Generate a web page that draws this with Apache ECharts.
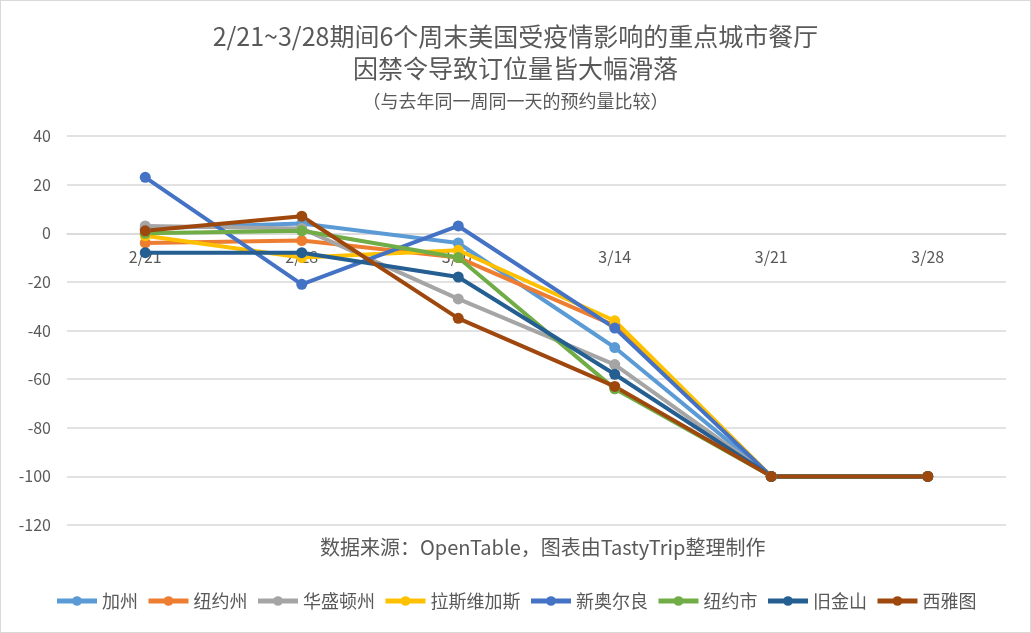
<!DOCTYPE html>
<html><head><meta charset="utf-8">
<script src="https://cdn.jsdelivr.net/npm/echarts@6/dist/echarts.min.js"></script>
<style>html,body{margin:0;padding:0;background:#fff;}#c{width:1029px;height:631px;border:1px solid #d9d9d9;}</style>
</head><body><div id="c"></div>
<script>
const categories = ['2/21','2/28','3/07','3/14','3/21','3/28'];
const seriesNames = ['加州','纽约州','华盛顿州','拉斯维加斯','新奥尔良','纽约市','旧金山','西雅图'];
const caliData    = [2, 4, -4, -47, -100, -100];
const nyStateData = [-4, -3, -10, -38, -100, -100];
const waData      = [3, 2, -27, -54, -100, -100];
const lvData      = [-1, -10, -7, -36, -100, -100];
const nolaData    = [23, -21, 3, -39, -100, -100];
const nycData     = [0, 1, -10, -64, -100, -100];
const sfData      = [-8, -8, -18, -58, -100, -100];
const seaData     = [1, 7, -35, -63, -100, -100];
const yTicks = [-120, 40, 20];
const allData = [caliData, nyStateData, waData, lvData, nolaData, nycData, sfData, seaData];
const colors = ['#5B9BD5','#ED7D31','#A5A5A5','#FFC000','#4472C4','#70AD47','#255E91','#9E480E'];
const font = '"Noto Sans CJK SC", "Noto Sans", sans-serif';
const txt = '#595959';
const gridTop = 135, gridBottom = 107, H = 631;
const plotH = H - gridTop - gridBottom;
const zeroOffset = -(plotH * (0 - yTicks[0]) / (yTicks[1] - yTicks[0]));
const chart = echarts.init(document.getElementById('c'));
chart.setOption({
  animation: false,
  color: colors,
  title: [
    {text: '2/21~3/28期间6个周末美国受疫情影响的重点城市餐厅', left: 'center', top: 18, textStyle: {fontFamily: font, fontSize: 25, fontWeight: 'normal', color: txt}},
    {text: '因禁令导致订位量皆大幅滑落', left: 'center', top: 50, textStyle: {fontFamily: font, fontSize: 25, fontWeight: 'normal', color: txt}},
    {text: '（与去年同一周同一天的预约量比较）', left: 'center', top: 86, textStyle: {fontFamily: font, fontSize: 18, fontWeight: 'normal', color: txt}},
    {text: '数据来源：OpenTable，图表由TastyTrip整理制作', left: 314, top: 531, textStyle: {fontFamily: font, fontSize: 20, fontWeight: 'normal', color: txt}}
  ],
  legend: {
    bottom: 17, left: 'center', itemWidth: 40, itemHeight: 12, itemGap: 8,
    lineStyle: {width: 5},
    textStyle: {fontFamily: font, fontSize: 18, color: txt},
    data: seriesNames
  },
  grid: {left: 66, right: 24, top: gridTop, bottom: gridBottom, containLabel: false},
  xAxis: {
    type: 'category', data: categories, boundaryGap: true,
    position: 'bottom', offset: zeroOffset,
    axisLine: {onZero: false, lineStyle: {color: '#d9d9d9', width: 1.5}},
    axisTick: {show: false},
    axisLabel: {fontFamily: font, fontSize: 16, color: txt, margin: 16}
  },
  yAxis: {
    type: 'value', min: yTicks[0], max: yTicks[1], interval: yTicks[2],
    axisLine: {show: false}, axisTick: {show: false},
    axisLabel: {fontFamily: font, fontSize: 16, color: txt, margin: 16},
    splitLine: {lineStyle: {color: '#d9d9d9', width: 1.5}}
  },
  series: seriesNames.map((n, i) => ({
    name: n, type: 'line', data: allData[i],
    symbol: 'circle', symbolSize: 11,
    lineStyle: {width: 4}, itemStyle: {color: colors[i]}
  }))
});
</script></body></html>
